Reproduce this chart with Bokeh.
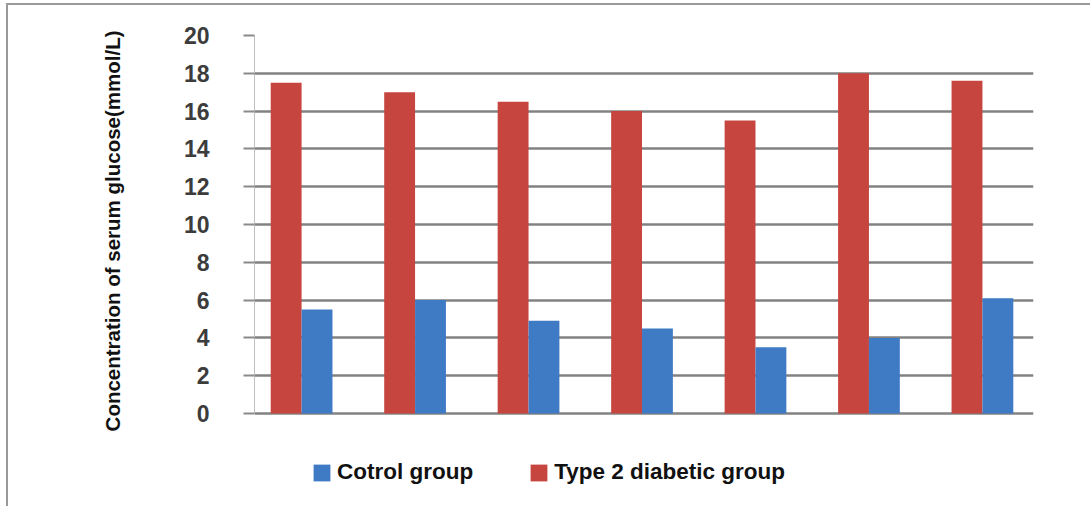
from bokeh.plotting import figure
from bokeh.models import Range1d, Legend, LegendItem, FixedTicker, ColumnDataSource, Title
from bokeh.transform import dodge
from bokeh.embed import file_html
from bokeh.resources import INLINE

# data
groups = [1, 2, 3, 4, 5, 6, 7]
diabetic = [17.5, 17.0, 16.5, 16.0, 15.5, 18.0, 17.6]
control = [5.5, 6.0, 4.9, 4.5, 3.5, 4.0, 6.1]
y_ticks = [0, 2, 4, 6, 8, 10, 12, 14, 16, 18, 20]
series_names = ["Cotrol group", "Type 2 diabetic group"]
y_label = "Concentration of serum glucose(mmol/L)"

src = ColumnDataSource(dict(x=groups, diabetic=diabetic, control=control))

# frame extends below 0 to leave room for the legend inside it
p = figure(width=1090, height=506, output_backend="svg", toolbar_location=None,
           x_range=Range1d(0.585, 7.45), y_range=Range1d(-4.34, 20),
           x_axis_location=None,
           min_border_left=254, min_border_right=57, min_border_top=35, min_border_bottom=11)
p.outline_line_color = None
p.background_fill_color = "white"
p.border_fill_color = None
p.styles = {"box-shadow": "inset 6px 3px 0 0 #ffffff, inset 8px 5px 0 0 #9a9a9a"}

red = "#C6463F"
blue = "#3F7AC4"
bw = 0.272
r_red = p.vbar(x=dodge("x", -bw / 2), top="diabetic", width=bw, source=src,
               fill_color=red, line_color=None)
r_blue = p.vbar(x=dodge("x", bw / 2), top="control", width=bw, source=src,
                fill_color=blue, line_color=None)

p.xgrid.visible = False
p.ygrid.grid_line_color = "#828282"
p.ygrid.grid_line_width = 2.5
p.ygrid.ticker = FixedTicker(ticks=y_ticks)

ya = p.yaxis[0]
ya.ticker = FixedTicker(ticks=y_ticks)
ya.bounds = (0, 20)
ya.minor_tick_line_color = None
ya.major_tick_out = 11
ya.major_tick_in = 0
ya.major_tick_line_color = "#8a8a8a"
ya.major_tick_line_width = 2
ya.axis_line_color = "#c0c0c0"
ya.axis_line_width = 1
ya.major_label_text_font = "Liberation Sans"
ya.major_label_text_font_style = "bold"
ya.major_label_text_font_size = "23px"
ya.major_label_text_color = "#3c3c3c"
ya.major_label_standoff = 34

ytitle = Title(text=y_label, align="right", offset=-5, standoff=113,
               text_font="Liberation Sans", text_font_style="bold",
               text_font_size="20.5px", text_color="#111111")
p.add_layout(ytitle, "left")

legend = Legend(items=[LegendItem(label=series_names[0], renderers=[r_blue]),
                       LegendItem(label=series_names[1], renderers=[r_red])],
                orientation="horizontal", location=(57, 10),
                glyph_width=21, glyph_height=21, label_standoff=5, spacing=55,
                padding=0, margin=0, border_line_color=None, background_fill_alpha=0,
                label_text_font="Liberation Sans", label_text_font_style="bold",
                label_text_font_size="22.5px", label_text_color="#111111")
p.add_layout(legend, "center")

open("out.html", "w").write(file_html(p, INLINE))
